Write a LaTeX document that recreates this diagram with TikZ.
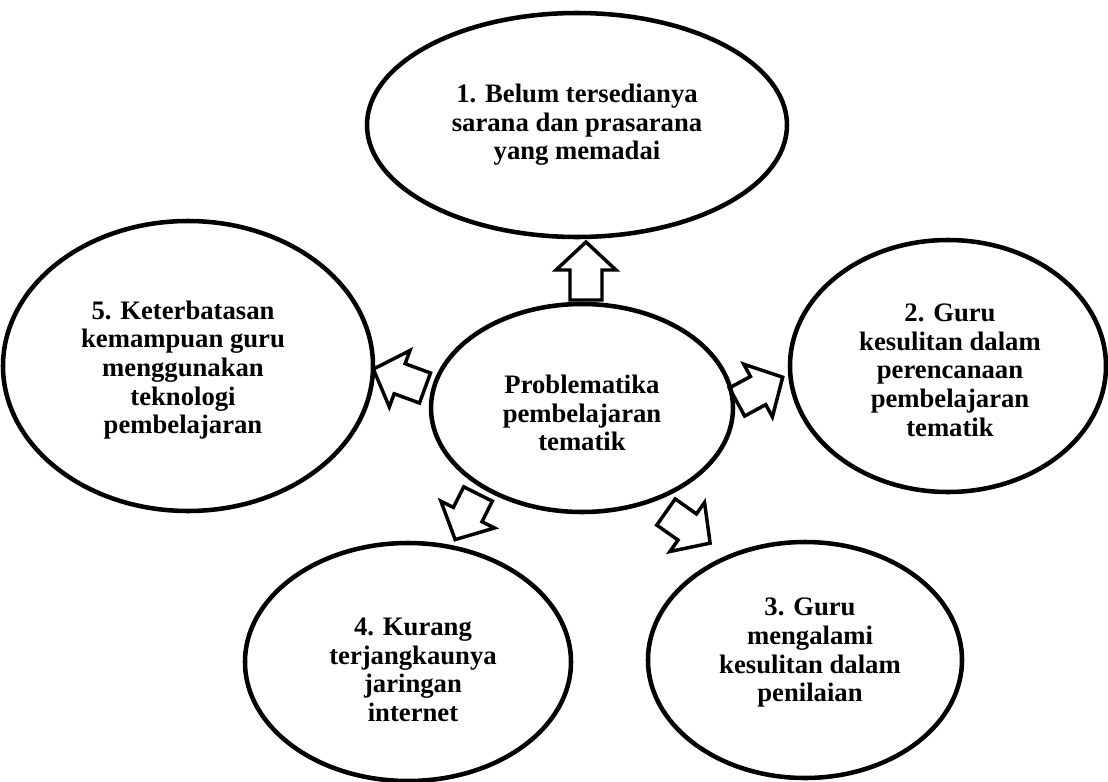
\documentclass[tikz,border=0pt]{standalone}
\usepackage{fontspec}
\setmainfont{Liberation Serif}
\usetikzlibrary{shapes.geometric}
\tikzset{
  ell/.style={ellipse, draw=black, line width=3.4pt, inner sep=0pt},
  lbl/.style={align=center, font=\fontsize{20pt}{21.5pt}\selectfont\bfseries, inner sep=0pt},
  barrowstyle/.style={draw=black, line width=2.6pt, line join=miter}
}
\newcommand\blockarrow[4]{%
  \begin{scope}[shift={(#1,#2)},rotate=#3]
    \draw[barrowstyle] (0,-16) -- ({#4-28},-16) -- ({#4-28},-30) -- (#4,0) -- ({#4-28},30) -- ({#4-28},16) -- (0,16) -- cycle;
  \end{scope}}
\begin{document}
\begin{tikzpicture}[x=0.75pt,y=-0.75pt]
\useasboundingbox (0,0) rectangle (1108,782);
% ellipses
\node[ell, minimum width=315pt, minimum height=168pt] (e1) at (577,125) {};
\node[ell, minimum width=226.5pt, minimum height=156pt] (ec) at (582,408) {};
\node[ell, minimum width=277.5pt, minimum height=217.5pt] (e5) at (188,366) {};
\node[ell, minimum width=237pt, minimum height=189pt] (e2) at (948,366) {};
\node[ell, minimum width=244.5pt, minimum height=178.5pt] (e4) at (408,662) {};
\node[ell, minimum width=235.5pt, minimum height=177pt] (e3) at (805,660) {};
% labels
\node[lbl] (t1) at (577,125) {1. Belum tersedianya\\sarana dan prasarana\\yang memadai};
\node[lbl] (tc) at (582,413) {Problematika\\pembelajaran\\tematik};
\node[lbl] (t5) at (183,370) {5. Keterbatasan\\kemampuan guru\\menggunakan\\teknologi\\pembelajaran};
\node[lbl] (t2) at (950,370) {2. Guru\\kesulitan dalam\\perencanaan\\pembelajaran\\tematik};
\node[lbl] (t4) at (413,670) {4. Kurang\\terjangkaunya\\jaringan\\internet};
\node[lbl] (t3) at (810,653) {3. Guru\\mengalami\\kesulitan dalam\\penilaian};
% block arrows
\blockarrow{586}{300}{90}{58}
\blockarrow{425}{388}{159.9}{55}
\blockarrow{737}{402}{28.5}{52}
\blockarrow{478}{494}{243.4}{51}
\blockarrow{666}{512}{-35.2}{54}
\end{tikzpicture}
\end{document}
